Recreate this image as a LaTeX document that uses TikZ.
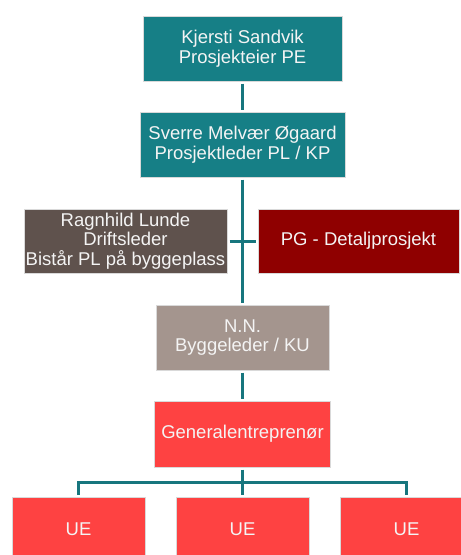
\documentclass[tikz,border=0pt]{standalone}
\usepackage{fontspec}
\setmainfont{Liberation Sans}
\definecolor{teal1}{HTML}{167F86}
\definecolor{linec}{HTML}{17767E}
\definecolor{brown1}{HTML}{5F524D}
\definecolor{darkred1}{HTML}{8F0000}
\definecolor{tan1}{HTML}{A4958E}
\definecolor{red1}{HTML}{FE4242}
\definecolor{txt}{HTML}{F4F4F4}
\begin{document}
\begin{tikzpicture}[x=1pt,y=-1pt,
  box/.style={rectangle, draw=white!85!black, line width=0.6pt, text=txt, align=center,
    font=\fontsize{18.5}{19.5}\selectfont, inner sep=0pt, outer sep=2.5pt},
  conn/.style={draw=linec, line width=3pt}]
\useasboundingbox (0,0) rectangle (461,555);
\clip (0,0) rectangle (461,555);
\node[box, fill=teal1, minimum width=199pt, minimum height=65pt] (pe) at (242.5,48.5) {Kjersti Sandvik\\Prosjekteier PE};
\node[box, fill=teal1, minimum width=205pt, minimum height=65pt] (pl) at (242.5,144.5) {Sverre Melvær Øgaard\\Prosjektleder PL / KP};
\node[box, fill=brown1, minimum width=203pt, minimum height=64pt] (dl) at (125.5,241) {Ragnhild Lunde\\Driftsleder\\Bistår PL på byggeplass};
\node[box, fill=darkred1, minimum width=201pt, minimum height=64pt] (pg) at (358.5,241) {PG - Detaljprosjekt};
\node[box, fill=tan1, minimum width=173pt, minimum height=65pt] (bl) at (242.5,337.5) {N.N.\\Byggeleder / KU};
\node[box, fill=red1, minimum width=176pt, minimum height=66pt] (ge) at (242.5,434) {Generalentreprenør};
\node[box, fill=red1, minimum width=133pt, minimum height=65pt] (ue1) at (78.5,529.5) {UE};
\node[box, fill=red1, minimum width=133pt, minimum height=65pt] (ue2) at (242.5,529.5) {UE};
\node[box, fill=red1, minimum width=133pt, minimum height=65pt] (ue3) at (406.5,529.5) {UE};
\coordinate (bar) at (242.5,482);
\draw[conn] (pe.south) -- (pl.north);
\draw[conn] (pl.south) -- (bl.north);
\draw[conn] (dl.east) -- (pg.west);
\draw[conn] (bl.south) -- (ge.north);
\draw[conn] (ge.south) -- (bar);
\draw[conn] (bar) -| (ue1.north);
\draw[conn] (bar) -| (ue3.north);
\draw[conn] (bar) -- (ue2.north);
\end{tikzpicture}
\end{document}
